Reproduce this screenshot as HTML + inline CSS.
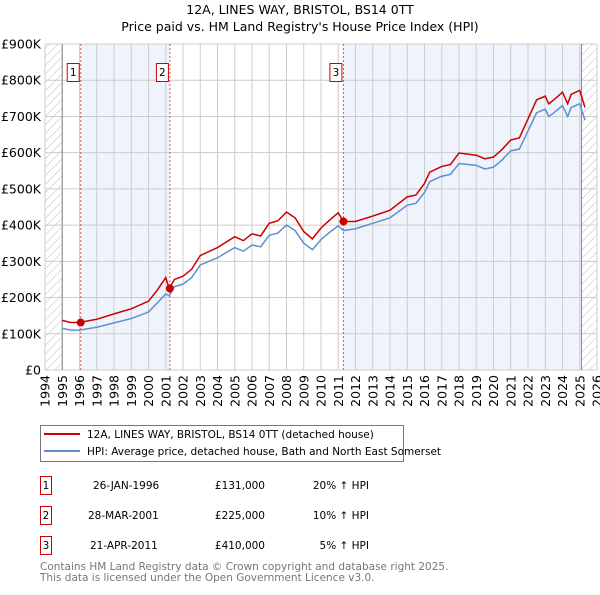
<!DOCTYPE html>
<html><head><meta charset="utf-8"><style>
body{margin:0;background:#fff;font-family:"Liberation Sans","DejaVu Sans",sans-serif;}
svg text{font-family:"DejaVu Sans","Liberation Sans",sans-serif;}
</style></head><body>
<svg id="c" width="600" height="590" viewBox="0 0 600 590" xmlns="http://www.w3.org/2000/svg">
<defs><pattern id="hatch" width="6" height="6" patternUnits="userSpaceOnUse" patternTransform="rotate(45)"><line x1="0" y1="0" x2="0" y2="6" stroke="#bbb" stroke-width="1"/></pattern></defs>
<text x="300" y="14" text-anchor="middle" font-size="12.5" fill="#000">12A, LINES WAY, BRISTOL, BS14 0TT</text>
<text x="300" y="31" text-anchor="middle" font-size="12.5" fill="#000">Price paid vs. HM Land Registry's House Price Index (HPI)</text>
<g id="plot"></g>
<g>
<rect x="40.5" y="425.5" width="363" height="36" fill="#fff" stroke="#777"/>
<line x1="44" y1="434" x2="80" y2="434" stroke="#cc0000" stroke-width="2"/>
<text x="87" y="438" font-size="10.5">12A, LINES WAY, BRISTOL, BS14 0TT (detached house)</text>
<line x1="44" y1="451" x2="80" y2="451" stroke="#5f8fd0" stroke-width="2"/>
<text x="87" y="455" font-size="10.5">HPI: Average price, detached house, Bath and North East Somerset</text>
</g>
<g font-size="10.5">
<rect x="40.5" y="476.5" width="11" height="18" fill="#fff" stroke="#cc0000"/><text x="46" y="489" text-anchor="middle">1</text>
<text x="93" y="489">26-JAN-1996</text><text x="265" y="489" text-anchor="end">£131,000</text><text x="369" y="489" text-anchor="end">20% ↑ HPI</text>
<rect x="40.5" y="506.5" width="11" height="18" fill="#fff" stroke="#cc0000"/><text x="46" y="519" text-anchor="middle">2</text>
<text x="88" y="519">28-MAR-2001</text><text x="265" y="519" text-anchor="end">£225,000</text><text x="369" y="519" text-anchor="end">10% ↑ HPI</text>
<rect x="40.5" y="536.5" width="11" height="18" fill="#fff" stroke="#cc0000"/><text x="46" y="549" text-anchor="middle">3</text>
<text x="90" y="549">21-APR-2011</text><text x="265" y="549" text-anchor="end">£410,000</text><text x="369" y="549" text-anchor="end">5% ↑ HPI</text>
</g>
<text x="40" y="570" font-size="10.5" fill="#777">Contains HM Land Registry data © Crown copyright and database right 2025.</text>
<text x="40" y="581" font-size="10.5" fill="#777">This data is licensed under the Open Government Licence v3.0.</text>
</svg>
<script>
const years=[1995,1995.5,1996,1997,1998,1999,2000,2000.5,2001,2001.2,2001.5,2002,2002.5,2003,2004,2005,2005.5,2006,2006.5,2007,2007.5,2008,2008.5,2009,2009.5,2010,2010.5,2011,2011.3,2012,2013,2014,2015,2015.5,2016,2016.3,2017,2017.5,2018,2019,2019.5,2020,2020.5,2021,2021.5,2022,2022.5,2023,2023.2,2023.5,2024,2024.3,2024.5,2025,2025.3];
const hpiValues=[115,110,110,118,130,142,160,185,210,205,230,237,255,290,310,338,328,345,340,372,378,400,385,350,332,360,380,398,385,390,405,420,455,460,490,520,535,540,570,565,555,560,580,605,610,660,710,720,700,710,730,700,725,735,690];
const priceValues=[137,131,131,140,155,169,190,220,255,225,250,259,278,316,338,368,357,376,370,405,412,436,420,382,362,392,414,434,410,410,425,441,478,483,515,546,562,567,599,593,583,588,609,635,641,693,746,756,735,746,767,735,761,772,725];
const saleYears=[1996.07,2001.24,2011.3];
const salePrices=[131,225,410];
const saleLabels=["1","2","3"];
const yTicks=[0,100,200,300,400,500,600,700,800,900];
const yTickLabels=["£0","£100K","£200K","£300K","£400K","£500K","£600K","£700K","£800K","£900K"];
const xStart=1994,xEnd=2026,x0=45,x1=597,y0=370,y1=44;
const X=v=>x0+(v-xStart)/(xEnd-xStart)*(x1-x0);
const Y=v=>y0-v/900*(y0-y1);
const NS="http://www.w3.org/2000/svg";
const g=document.getElementById('plot');
function mk(t,a){const e=document.createElementNS(NS,t);for(const k in a)e.setAttribute(k,a[k]);g.appendChild(e);return e;}
let e;
e=mk('rect',{x:X(1994),y:y1,width:X(1995)-X(1994),height:y0-y1,fill:'url(#hatch)'});


e=mk('rect',{x:X(2025.1),y:y1,width:X(2026)-X(2025.1),height:y0-y1,fill:'url(#hatch)'});


e=mk('rect',{x:X(saleYears[0]),y:y1,width:X(saleYears[1])-X(saleYears[0]),height:y0-y1,fill:'#eef3fc'});


e=mk('rect',{x:X(saleYears[2]),y:y1,width:X(2025.1)-X(saleYears[2]),height:y0-y1,fill:'#eef3fc'});


for(let yr=xStart;yr<=xEnd;yr++){
 e=mk('line',{x1:X(yr),x2:X(yr),y1:y1,y2:y0,stroke:'#cccccc','stroke-width':1});
 
 
 const t=mk('text',{x:0,y:0,'font-size':12.5,'text-anchor':'end',transform:`translate(${X(yr)+4.5},${y0+5}) rotate(-90)`});
 t.textContent=yr;
 
 
}
yTicks.forEach((v,i)=>{
 e=mk('line',{x1:x0,x2:x1,y1:Y(v),y2:Y(v),stroke:'#cccccc','stroke-width':1});
 
 
 const t=mk('text',{x:x0-4,y:Y(v)+4.5,'font-size':12.5,'text-anchor':'end'});
 t.textContent=yTickLabels[i];
 
 
});
e=mk('line',{x1:X(1995),x2:X(1995),y1:y1,y2:y0,stroke:'#888','stroke-width':1});


e=mk('line',{x1:X(2025.1),x2:X(2025.1),y1:y1,y2:y0,stroke:'#888','stroke-width':1});


saleYears.forEach((s,i)=>{
 e=mk('line',{x1:X(s),x2:X(s),y1:y1,y2:y0,stroke:'#e05555','stroke-width':1,'stroke-dasharray':'2,2'});
 
 
 e=mk('rect',{x:X(s)-13.5,y:63.5,width:12,height:18,fill:'#fff',stroke:'#cc0000'});
 
 
 const t=mk('text',{x:X(s)-7.5,y:76,'font-size':10.5,'text-anchor':'middle'});
 t.textContent=saleLabels[i];
 
 
});
e=mk('polyline',{points:years.map((yr,i)=>X(yr)+','+Y(hpiValues[i])).join(' '),fill:'none',stroke:'#5f8fd0','stroke-width':1.5});


e=mk('polyline',{points:years.map((yr,i)=>X(yr)+','+Y(priceValues[i])).join(' '),fill:'none',stroke:'#cc0000','stroke-width':1.5});


saleYears.forEach((s,i)=>{
 e=mk('circle',{cx:X(s),cy:Y(salePrices[i]),r:4,fill:'#cc0000'});
 
 
});
</script>
</body></html>
